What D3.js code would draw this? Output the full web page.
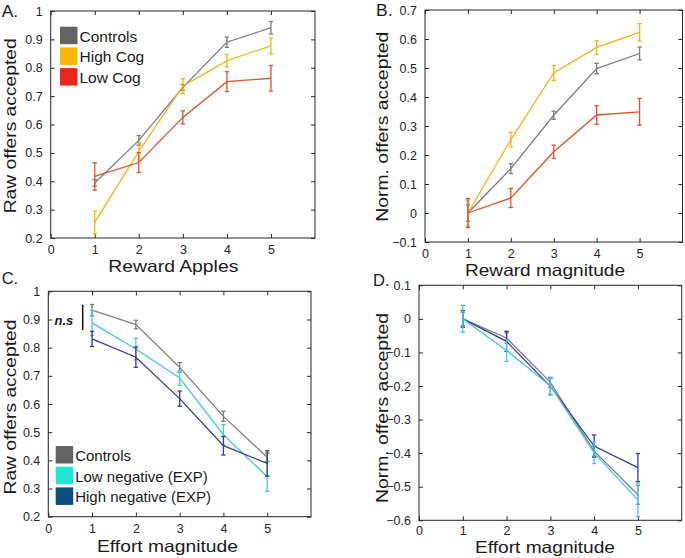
<!DOCTYPE html>
<html><head><meta charset="utf-8">
<script src="https://cdn.jsdelivr.net/npm/d3@7"></script>
<style>body{margin:0;background:#fff}svg{display:block}text{font-family:Helvetica,Arial,"Liberation Sans",sans-serif;fill:#1a1a1a}</style>
</head><body><svg id="c" width="685" height="558"></svg>
<script>
const xCats = [1, 2, 3, 4, 5];
const xTicks = [0, 1, 2, 3, 4, 5];

// Panel A: raw offers accepted by reward
const aControls = [0.394, 0.544, 0.731, 0.890, 0.941];
const aControlsErr = [0.012, 0.017, 0.010, 0.018, 0.022];
const aHighCog = [0.255, 0.505, 0.735, 0.825, 0.877];
const aHighCogErr = [0.040, 0.030, 0.026, 0.022, 0.028];
const aLowCog = [0.417, 0.466, 0.625, 0.751, 0.763];
const aLowCogErr = [0.048, 0.035, 0.023, 0.035, 0.045];

// Panel B: normalised offers accepted by reward
const bControls = [0, 0.153, 0.337, 0.498, 0.550];
const bControlsErr = [0.028, 0.017, 0.014, 0.018, 0.022];
const bHighCog = [0, 0.253, 0.483, 0.571, 0.623];
const bHighCogErr = [0.045, 0.025, 0.026, 0.023, 0.030];
const bLowCog = [0, 0.052, 0.211, 0.338, 0.349];
const bLowCogErr = [0.050, 0.033, 0.023, 0.032, 0.046];

// Panel C: raw offers accepted by effort
const cControls = [0.933, 0.882, 0.730, 0.556, 0.411];
const cControlsErr = [0.020, 0.015, 0.017, 0.018, 0.015];
const cLowNeg = [0.888, 0.795, 0.692, 0.491, 0.342];
const cLowNegErr = [0.045, 0.038, 0.026, 0.036, 0.052];
const cHighNeg = [0.831, 0.766, 0.619, 0.452, 0.389];
const cHighNegErr = [0.027, 0.036, 0.027, 0.033, 0.045];

// Panel D: normalised offers accepted by effort
const dControls = [0, -0.057, -0.189, -0.394, -0.524];
const dControlsErr = [0.020, 0.015, 0.015, 0.015, 0.028];
const dLowNeg = [0, -0.094, -0.200, -0.399, -0.539];
const dLowNegErr = [0.040, 0.033, 0.025, 0.032, 0.050];
const dHighNeg = [0, -0.067, -0.201, -0.379, -0.443];
const dHighNegErr = [0.025, 0.030, 0.025, 0.033, 0.042];

const aYTicks = [0.2, 0.3, 0.4, 0.5, 0.6, 0.7, 0.8, 0.9, 1];
const bYTicks = [-0.1, 0, 0.1, 0.2, 0.3, 0.4, 0.5, 0.6, 0.7];
const cYTicks = [0.2, 0.3, 0.4, 0.5, 0.6, 0.7, 0.8, 0.9, 1];
const dYTicks = [-0.6, -0.5, -0.4, -0.3, -0.2, -0.1, 0, 0.1];

const legendCog = ["Controls", "High Cog", "Low Cog"];
const legendNeg = ["Controls", "Low negative (EXP)", "High negative (EXP)"];

const col = {
  gray: "#7d7d7d", grayPatch: "#636363",
  yellow: "#f2b21c", yellowPatch: "#f7b500",
  red: "#e2502a", redPatch: "#e8281a",
  cyan: "#45c6e6", cyanPatch: "#1ee6d2",
  navy: "#3a3a8e", navyPatch: "#0b4b7c"
};

const svg = d3.select("#c");
const fmt = v => (Math.abs(v) < 1e-9 ? "0" : d3.format("")(+v.toFixed(1)));

function panel(o) {
  const x = d3.scaleLinear().domain([0, 6]).range([o.l, o.r]);
  const y = d3.scaleLinear().domain(o.yDom).range([o.b, o.t]);
  const g = svg.append("g");
  const axCol = "#262626";
  g.append("rect").attr("x", o.l).attr("y", o.t).attr("width", o.r - o.l).attr("height", o.b - o.t)
    .attr("fill", "none").attr("stroke", axCol).attr("stroke-width", 1);
  const ax = g.append("g").attr("transform", `translate(0,${o.b})`)
    .call(d3.axisBottom(x).tickValues(xTicks).tickSize(-4).tickPadding(o.xPad).tickFormat(d3.format("d")));
  const axT = g.append("g").attr("transform", `translate(0,${o.t})`)
    .call(d3.axisTop(x).tickValues(xTicks).tickSize(-4).tickFormat(""));
  const ay = g.append("g").attr("transform", `translate(${o.l},0)`)
    .call(d3.axisLeft(y).tickValues(o.yTicks).tickSize(-4).tickPadding(8).tickFormat(fmt));
  const ayR = g.append("g").attr("transform", `translate(${o.r},0)`)
    .call(d3.axisRight(y).tickValues(o.yTicks).tickSize(-4).tickFormat(""));
  [ax, axT, ay, ayR].forEach(a => {
    a.select(".domain").remove();
    a.selectAll("line").attr("stroke", axCol);
    a.selectAll("text").attr("font-size", 12.5).style("fill", "#262626");
  });
  const line = d3.line().x((d, i) => x(xCats[i])).y(d => y(d));
  o.series.forEach(s => {
    g.append("path").datum(s.v).attr("d", line).attr("fill", "none")
      .attr("stroke", s.c).attr("stroke-width", 1.3);
    const eb = g.append("g").attr("stroke", s.c).attr("stroke-width", 1.3);
    s.v.forEach((v, i) => {
      const cx = x(xCats[i]), y1 = y(v + s.e[i]), y0 = y(v - s.e[i]);
      eb.append("line").attr("x1", cx).attr("x2", cx).attr("y1", y0).attr("y2", y1);
      eb.append("line").attr("x1", cx - 2.2).attr("x2", cx + 2.2).attr("y1", y0).attr("y2", y0);
      eb.append("line").attr("x1", cx - 2.2).attr("x2", cx + 2.2).attr("y1", y1).attr("y2", y1);
    });
  });
  svg.append("text").attr("x", o.xlX).attr("y", o.xlY).attr("text-anchor", "middle")
    .attr("font-size", 16.5).attr("textLength", o.xlW).attr("lengthAdjust", "spacingAndGlyphs").text(o.xlabel);
  svg.append("text").attr("transform", `translate(${o.ylX},${o.ylC}) rotate(-90)`)
    .attr("text-anchor", "middle").attr("font-size", 16.5).attr("textLength", o.ylW)
    .attr("lengthAdjust", "spacingAndGlyphs").text(o.ylabel);
  svg.append("text").attr("x", o.letterX).attr("y", o.letterY).attr("font-size", 16.5)
    .attr("textLength", 16.5).attr("lengthAdjust", "spacingAndGlyphs").text(o.letter);
  if (o.legend) {
    o.legend.forEach((name, i) => {
      const yy = o.legY + i * 20.7;
      svg.append("rect").attr("x", o.legX).attr("y", yy).attr("width", 17.5).attr("height", 17.5)
        .attr("fill", o.legendColors[i]);
      svg.append("text").attr("x", o.legX + 19.5).attr("y", yy + 14.8).attr("font-size", o.legFs).text(name);
    });
  }
  return { x, y };
}

panel({ l: 50.7, r: 315, t: 11, b: 238, yDom: [0.2, 1], yTicks: aYTicks, xPad: 7.5,
  series: [
    { v: aControls, e: aControlsErr, c: col.gray },
    { v: aHighCog, e: aHighCogErr, c: col.yellow },
    { v: aLowCog, e: aLowCogErr, c: col.red }],
  xlabel: "Reward Apples", xlX: 173.3, xlW: 130, xlY: 272,
  ylabel: "Raw offers accepted", ylX: 15.5, ylC: 125.8, ylW: 175,
  letter: "A.", letterX: 1.7, letterY: 17.3,
  legend: legendCog, legendColors: [col.grayPatch, col.yellowPatch, col.redPatch], legX: 60, legY: 26.7, legFs: 15.5 });

panel({ l: 425, r: 682.5, t: 10, b: 242, yDom: [-0.1, 0.7], yTicks: bYTicks, xPad: 7,
  series: [
    { v: bControls, e: bControlsErr, c: col.gray },
    { v: bHighCog, e: bHighCogErr, c: col.yellow },
    { v: bLowCog, e: bLowCogErr, c: col.red }],
  xlabel: "Reward magnitude", xlX: 545, xlW: 160, xlY: 275.5,
  ylabel: "Norm. offers accepted", ylX: 388, ylC: 126.7, ylW: 190,
  letter: "B.", letterX: 376, letterY: 15.5 });

panel({ l: 48.3, r: 311, t: 291.3, b: 516.7, yDom: [0.2, 1], yTicks: cYTicks, xPad: 7.5,
  series: [
    { v: cControls, e: cControlsErr, c: col.gray },
    { v: cLowNeg, e: cLowNegErr, c: col.cyan },
    { v: cHighNeg, e: cHighNegErr, c: col.navy }],
  xlabel: "Effort magnitude", xlX: 167.5, xlW: 141, xlY: 551.5,
  ylabel: "Raw offers accepted", ylX: 15.5, ylC: 407, ylW: 175,
  letter: "C.", letterX: 1.7, letterY: 283.5,
  legend: legendNeg, legendColors: [col.grayPatch, col.cyanPatch, col.navyPatch], legX: 55.7, legY: 446, legFs: 15 });

// n.s annotation
svg.append("text").attr("x", 54.5).attr("y", 324.5).attr("font-size", 13).attr("font-weight", "bold")
  .attr("font-style", "italic").text("n.s");
svg.append("line").attr("x1", 82.7).attr("x2", 82.7).attr("y1", 304.7).attr("y2", 330)
  .attr("stroke", "#111").attr("stroke-width", 1.5);

panel({ l: 419, r: 681.7, t: 285.3, b: 520.3, yDom: [-0.6, 0.1], yTicks: dYTicks, xPad: 5.5,
  series: [
    { v: dControls, e: dControlsErr, c: col.gray },
    { v: dHighNeg, e: dHighNegErr, c: col.navy },
    { v: dLowNeg, e: dLowNegErr, c: col.cyan }],
  xlabel: "Effort magnitude", xlX: 545, xlW: 140, xlY: 553,
  ylabel: "Norm. offers accepted", ylX: 388, ylC: 408, ylW: 190,
  letter: "D.", letterX: 373, letterY: 285.5 });
</script></body></html>
